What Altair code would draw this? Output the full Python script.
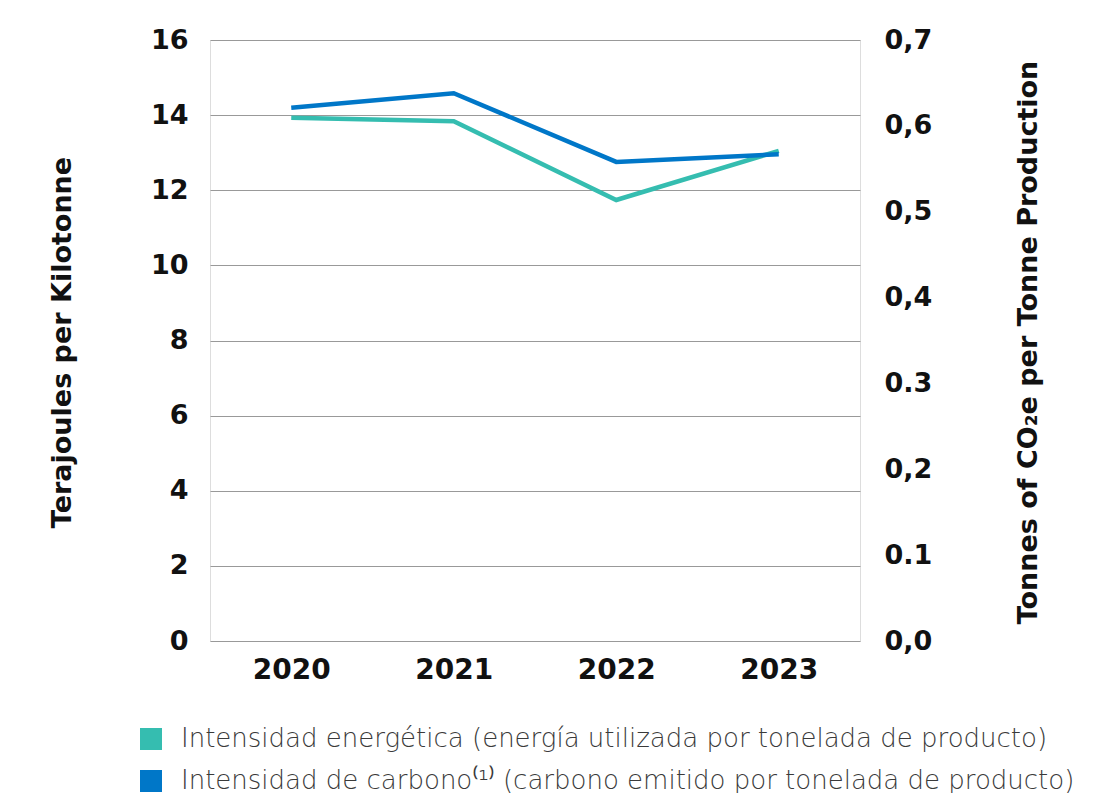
import altair as alt
import pandas as pd

years = ["2020", "2021", "2022", "2023"]
energy = [13.93, 13.84, 11.74, 13.05]          # Terajoules per kilotonne
carbon = [0.621, 0.638, 0.558, 0.567]          # tCO2e per tonne
series_names = [
    "Intensidad energética (energía utilizada por tonelada de producto)",
    "Intensidad de carbono⁽¹⁾ (carbono emitido por tonelada de producto)",
]
colors = ["#35BDB0", "#0077C8"]
left_ticks = [0, 2, 4, 6, 8, 10, 12, 14, 16]
right_ticks = [0, 0.1, 0.2, 0.3, 0.4, 0.5, 0.6, 0.7]
right_labels = ["0,0", "0.1", "0,2", "0.3", "0,4", "0,5", "0,6", "0,7"]

df_e = pd.DataFrame({"year": years, "value": energy, "series": series_names[0]})
df_c = pd.DataFrame({"year": years, "value": carbon, "series": series_names[1]})

BOLD = "DejaVu Sans"
LIGHT = "DejaVu Sans"
label_arr = "[" + ",".join("'%s'" % s for s in right_labels) + "]"

x_enc = alt.X("year:N", title=None, sort=years,
              scale=alt.Scale(type="point", padding=0.5),
              axis=alt.Axis(labelAngle=0, domain=False, ticks=False, labelPadding=15,
                            labelFontSize=28, labelFontWeight="bold", labelColor="#111",
                            labelFont=BOLD))

color_enc = alt.Color(
    "series:N", scale=alt.Scale(domain=series_names, range=colors),
    legend=alt.Legend(title=None, orient="none", legendX=-72, legendY=686,
                      symbolType="square", symbolSize=121,
                      symbolStrokeWidth=11, symbolOpacity=1, labelOffset=17,
                      labelFontSize=26, labelFont=LIGHT, labelColor="#3a3a3a",
                      labelFontWeight=200, labelLimit=1200, rowPadding=-14))

energy_line = alt.Chart(df_e).mark_line(strokeWidth=4.5).encode(
    x=x_enc,
    y=alt.Y("value:Q", scale=alt.Scale(domain=[0, 16], nice=False),
            axis=alt.Axis(values=left_ticks, title="Terajoules per Kilotonne",
                          domain=False, ticks=False, grid=True, gridColor="#999",
                          gridWidth=1, labelPadding=22, labelFontSize=27,
                          labelFontWeight="bold", labelColor="#111", labelFont=BOLD,
                          titleFont=BOLD, titleFontSize=27, titleFontWeight="bold",
                          titleColor="#111", titleX=-148, titleY=302,
                          titleAngle=-90, titleBaseline="middle", titleAlign="center")),
    color=color_enc,
)

carbon_line = alt.Chart(df_c).mark_line(strokeWidth=4.5).encode(
    x=x_enc,
    y=alt.Y("value:Q", scale=alt.Scale(domain=[0, 0.7], nice=False),
            axis=alt.Axis(orient="right", values=right_ticks,
                          labelExpr=label_arr + "[round(datum.value*10)]",
                          title="Tonnes of CO₂e per Tonne Production",
                          domain=False, ticks=False, grid=False, labelPadding=24,
                          labelFontSize=27, labelFontWeight="bold", labelColor="#111",
                          labelFont=BOLD, titleFont=BOLD, titleFontSize=27,
                          titleFontWeight="bold", titleColor="#111", titleX=168,
                          titleY=302, titleAngle=-90, titleBaseline="middle",
                          titleAlign="center")),
    color=color_enc,
)

chart = alt.layer(energy_line, carbon_line).resolve_scale(y="independent").properties(
    width=650, height=601,
    autosize=alt.AutoSizeParams(type="none"),
    padding={"left": 202, "top": 32, "right": 240, "bottom": 170},
).configure_view(stroke=None).configure(background="white")

chart.save("out.html", embed_options={"renderer": "svg", "actions": False})
